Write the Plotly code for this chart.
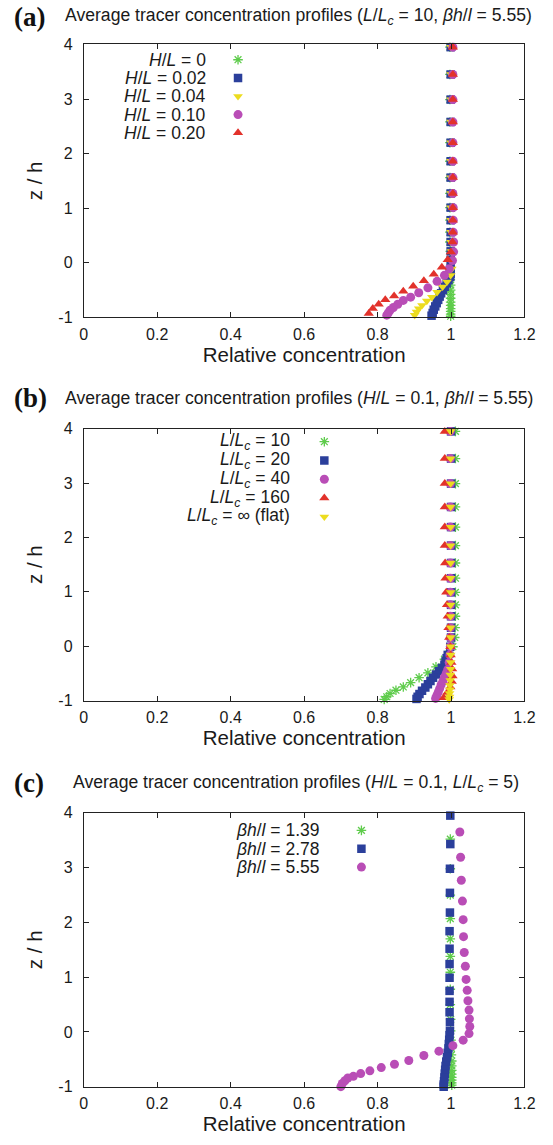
import plotly.graph_objects as go

# ---------------- data ----------------
# Panel (a): H/L series (L/Lc = 10, beta h/l = 5.55)
a_labels = ["H/L = 0", "H/L = 0.02", "H/L = 0.04", "H/L = 0.10", "H/L = 0.20"]
a0_z = [3.95, 3.45, 2.99, 2.58, 2.20, 1.86, 1.56, 1.27, 1.01, 0.78, 0.56, 0.38, 0.21, 0.05, -0.08, -0.20,
        -0.31, -0.41, -0.50, -0.58, -0.65, -0.72, -0.78, -0.84, -0.89, -0.94, -0.98]
a0_c = [0.997, 0.997, 0.997, 0.997, 0.997, 0.997, 0.997, 0.997, 0.997, 0.997, 0.997, 0.997, 0.998, 0.998, 0.998,
        0.998, 0.998, 0.999, 0.999, 0.999, 0.999, 0.999, 0.999, 0.999, 0.999, 0.999, 0.999]
a1_z = [3.95, 3.45, 2.99, 2.58, 2.20, 1.86, 1.56, 1.27, 1.01, 0.78, 0.56, 0.38, 0.21, 0.05, -0.10, -0.20,
        -0.26, -0.32, -0.38, -0.44, -0.50, -0.56, -0.62, -0.68, -0.74, -0.80, -0.86, -0.92, -0.97]
a1_c = [0.999, 0.999, 0.999, 0.999, 0.999, 0.999, 0.999, 0.999, 0.999, 0.999, 0.999, 0.999, 0.999, 0.999, 0.999,
        0.999, 0.998, 0.993, 0.988, 0.983, 0.978, 0.973, 0.969, 0.965, 0.961, 0.957, 0.953, 0.950, 0.947]
a2_z = [3.95, 3.45, 2.99, 2.58, 2.20, 1.86, 1.56, 1.27, 1.01, 0.78, 0.56, 0.38, 0.21, 0.05, -0.11, -0.23,
        -0.35, -0.44, -0.54, -0.63, -0.70, -0.78, -0.84, -0.90, -0.96]
a2_c = [1.000, 1.000, 1.000, 1.000, 1.000, 1.000, 1.000, 1.000, 1.000, 1.000, 1.000, 1.000, 1.001, 1.002, 1.002,
        0.999, 0.989, 0.977, 0.962, 0.948, 0.934, 0.921, 0.912, 0.906, 0.901]
a3_z = [3.95, 3.45, 2.99, 2.58, 2.20, 1.86, 1.56, 1.27, 1.01, 0.78, 0.56, 0.38, 0.20, 0.04, -0.11, -0.23,
        -0.34, -0.46, -0.55, -0.63, -0.69, -0.76, -0.82, -0.87, -0.92, -0.96]
a3_c = [1.005, 1.005, 1.005, 1.005, 1.005, 1.005, 1.005, 1.005, 1.006, 1.006, 1.006, 1.007, 1.007, 1.004, 0.995,
        0.982, 0.962, 0.937, 0.912, 0.890, 0.870, 0.855, 0.843, 0.834, 0.829, 0.825]
a4_z = [3.95, 3.45, 2.99, 2.58, 2.20, 1.86, 1.56, 1.27, 1.01, 0.78, 0.56, 0.38, 0.195, 0.055, -0.08, -0.21,
        -0.33, -0.43, -0.52, -0.61, -0.68, -0.76, -0.84, -0.93]
a4_c = [1.005, 1.005, 1.005, 1.005, 1.005, 1.005, 1.005, 1.005, 1.005, 1.005, 1.005, 1.004, 0.9995, 0.991, 0.975,
        0.953, 0.926, 0.897, 0.870, 0.845, 0.821, 0.803, 0.787, 0.776]

# Panel (b): L/Lc series (H/L = 0.1, beta h/l = 5.55)
b_labels = ["L/Lc = 10", "L/Lc = 20", "L/Lc = 40", "L/Lc = 160", "L/Lc = inf (flat)"]
b0_z = [3.95, 3.45, 2.99, 2.56, 2.19, 1.85, 1.53, 1.25, 0.99, 0.76, 0.55, 0.34, 0.16, -0.01, -0.13, -0.24,
        -0.38, -0.49, -0.58, -0.67, -0.75, -0.81, -0.87, -0.93, -0.98]
b0_c = [1.012, 1.012, 1.012, 1.012, 1.012, 1.012, 1.012, 1.012, 1.012, 1.012, 1.012, 1.011, 1.010, 1.005, 0.995,
        0.982, 0.959, 0.937, 0.913, 0.890, 0.870, 0.850, 0.834, 0.825, 0.818]
b1_z = [3.95, 3.45, 2.99, 2.56, 2.19, 1.85, 1.53, 1.25, 0.99, 0.76, 0.55, 0.34, 0.16, -0.01, -0.16, -0.22,
        -0.28, -0.34, -0.40, -0.46, -0.52, -0.58, -0.64, -0.70, -0.76, -0.82, -0.88, -0.93, -0.97]
b1_c = [1.000, 1.000, 1.000, 1.000, 1.000, 1.000, 1.000, 1.000, 1.000, 1.000, 1.000, 1.000, 1.000, 0.998, 0.991,
        0.988, 0.985, 0.982, 0.975, 0.967, 0.959, 0.951, 0.944, 0.937, 0.930, 0.921, 0.914, 0.909, 0.906]
b2_z = [3.95, 3.45, 2.99, 2.56, 2.19, 1.85, 1.53, 1.25, 0.99, 0.76, 0.55, 0.34, 0.16, -0.01, -0.16, -0.30,
        -0.43, -0.50, -0.57, -0.64, -0.71, -0.78, -0.85, -0.91, -0.96]
b2_c = [0.998, 0.998, 0.998, 0.998, 0.998, 0.998, 0.998, 0.998, 0.998, 0.998, 0.998, 0.998, 0.998, 0.998, 0.997,
        0.995, 0.991, 0.987, 0.982, 0.978, 0.973, 0.969, 0.965, 0.961, 0.958]
b3_z = [3.95, 3.45, 2.99, 2.56, 2.19, 1.85, 1.53, 1.25, 0.99, 0.76, 0.55, 0.34, 0.16, -0.01, -0.16, -0.30,
        -0.42, -0.55, -0.65, -0.75, -0.85, -0.95]
b3_c = [0.983, 0.983, 0.983, 0.983, 0.983, 0.983, 0.984, 0.985, 0.987, 0.989, 0.991, 0.993, 0.995, 0.998, 0.999,
        1.001, 1.003, 1.004, 1.002, 0.998, 0.990, 0.980]
b4_z = [3.95, 3.45, 2.99, 2.56, 2.19, 1.85, 1.53, 1.25, 0.99, 0.76, 0.55, 0.34, 0.16, -0.01, -0.16, -0.30,
        -0.42, -0.53, -0.63, -0.72, -0.80, -0.87, -0.93, -0.98]
b4_c = [0.999, 0.999, 0.999, 0.999, 0.999, 0.999, 0.999, 0.999, 0.999, 0.999, 0.999, 0.999, 0.999, 0.999, 0.999,
        0.999, 0.999, 0.998, 0.998, 0.997, 0.997, 0.996, 0.996, 0.995]

# Panel (c): beta h/l series (H/L = 0.1, L/Lc = 5)
c_labels = ["βh/l = 1.39", "βh/l = 2.78", "βh/l = 5.55"]
c0_z = [3.52, 2.98, 2.50, 2.07, 1.70, 1.38, 1.09, 0.78, 0.50, 0.23, 0.02, -0.15, -0.30, -0.42, -0.53, -0.62,
        -0.70, -0.77, -0.83, -0.88, -0.93, -0.97]
c0_c = [0.998, 0.998, 0.998, 0.998, 0.998, 0.998, 0.998, 0.998, 0.998, 0.999, 0.999, 1.000, 1.001, 1.001, 1.002,
        1.002, 1.002, 1.002, 1.002, 1.002, 1.002, 1.002]
c1_z = [3.95, 3.43, 2.98, 2.54, 2.18, 1.84, 1.52, 1.24, 0.99, 0.75, 0.55, 0.36, 0.18, 0.02, -0.06, -0.14,
        -0.22, -0.30, -0.38, -0.46, -0.54, -0.62, -0.69, -0.76, -0.83, -0.90, -0.96, -1.00]
c1_c = [0.998, 0.998, 0.997, 0.997, 0.997, 0.996, 0.996, 0.996, 0.996, 0.996, 0.996, 0.996, 0.997, 0.997, 0.996,
        0.995, 0.994, 0.993, 0.991, 0.989, 0.987, 0.985, 0.984, 0.983, 0.982, 0.981, 0.980, 0.980]
c2_z = [3.65, 3.19, 2.77, 2.39, 2.05, 1.74, 1.45, 1.20, 0.96, 0.76, 0.57, 0.40, 0.24, 0.10, -0.03, -0.15,
        -0.25, -0.35, -0.43, -0.52, -0.59, -0.65, -0.71, -0.76, -0.81, -0.84, -0.89, -0.94, -0.998]
c2_c = [1.024, 1.026, 1.028, 1.031, 1.033, 1.034, 1.036, 1.039, 1.041, 1.044, 1.046, 1.049, 1.050, 1.051, 1.049,
        1.033, 1.005, 0.967, 0.926, 0.885, 0.846, 0.810, 0.779, 0.754, 0.734, 0.719, 0.711, 0.704, 0.700]

x_tickvals = [0, 0.2, 0.4, 0.6, 0.8, 1.0, 1.2]
x_ticktext = ["0", "0.2", "0.4", "0.6", "0.8", "1", "1.2"]
y_tickvals = [-1, 0, 1, 2, 3, 4]
y_ticktext = ["-1", "0", "1", "2", "3", "4"]

# ---------------- styles / layout constants ----------------
W, H = 553, 1145
GREEN, BLUE, YELLOW, MAGENTA, RED = "#5fcc4c", "#2b3f9b", "#ecdc1e", "#b94db6", "#e2322b"
STY = {
    "star": dict(symbol="asterisk-open", size=8, color=GREEN, line=dict(color=GREEN, width=1.3)),
    "square": dict(symbol="square", size=8.5, color=BLUE),
    "down": dict(symbol="triangle-down", size=8.5, color=YELLOW),
    "circle": dict(symbol="circle", size=9, color=MAGENTA),
    "up": dict(symbol="triangle-up", size=9, color=RED),
}

FONT = "Liberation Sans, Arial, Helvetica, sans-serif"
TXT = "#1a1a1a"

# pixel geometry of the three plot areas (top, bottom) and x extent
X0, X1 = 82, 535
PANELS = [(37, 314), (427, 703), (817, 1095)]


def ydom(top, bot):
    return [1 - bot / H, 1 - top / H]


fig = go.Figure()

series = [
    (1, [(a0_z, a0_c, "star"), (a1_z, a1_c, "square"), (a2_z, a2_c, "down"), (a3_z, a3_c, "circle"),
         (a4_z, a4_c, "up")]),
    (2, [(b0_z, b0_c, "star"), (b1_z, b1_c, "square"), (b2_z, b2_c, "circle"), (b3_z, b3_c, "up"),
         (b4_z, b4_c, "down")]),
    (3, [(c0_z, c0_c, "star"), (c1_z, c1_c, "square"), (c2_z, c2_c, "circle")]),
]

for k, lst in series:
    xa = "x" if k == 1 else f"x{k}"
    ya = "y" if k == 1 else f"y{k}"
    for z, c, st in lst:
        fig.add_trace(go.Scatter(x=c, y=z, mode="markers", marker=STY[st], xaxis=xa, yaxis=ya,
                                 showlegend=False, cliponaxis=False, hoverinfo="x+y"))

legend_text = {
    1: ["<i>H</i>/<i>L</i> = 0", "<i>H</i>/<i>L</i> = 0.02", "<i>H</i>/<i>L</i> = 0.04",
        "<i>H</i>/<i>L</i> = 0.10", "<i>H</i>/<i>L</i> = 0.20"],
    2: ["<i>L</i>/<i>L<sub>c</sub></i> = 10", "<i>L</i>/<i>L<sub>c</sub></i> = 20",
        "<i>L</i>/<i>L<sub>c</sub></i> = 40", "<i>L</i>/<i>L<sub>c</sub></i> = 160",
        "<i>L</i>/<i>L<sub>c</sub></i> = ∞ (flat)"],
    3: ["<i>βh</i>/<i>l</i> = 1.39", "<i>βh</i>/<i>l</i> = 2.78", "<i>βh</i>/<i>l</i> = 5.55"],
}
legend_style = {1: ["star", "square", "down", "circle", "up"],
                 2: ["star", "square", "circle", "up", "down"],
                 3: ["star", "square", "circle"]}
# (text right x, key x, first row z, row step) in data units
legend_geom = {1: (0.338, 0.42, 3.72, 0.335), 2: (0.568, 0.655, 3.76, 0.345), 3: (0.65, 0.756, 3.68, 0.335)}

annotations = []
for k in (1, 2, 3):
    tx, kx, z0, dz = legend_geom[k]
    xa = "x" if k == 1 else f"x{k}"
    ya = "y" if k == 1 else f"y{k}"
    for i, (t, st) in enumerate(zip(legend_text[k], legend_style[k])):
        zz = z0 - i * dz
        fig.add_trace(go.Scatter(x=[kx], y=[zz], mode="markers", marker=STY[st], xaxis=xa, yaxis=ya,
                                 showlegend=False, hoverinfo="skip"))
        annotations.append(dict(x=tx, y=zz, xref=xa, yref=ya, text=t, showarrow=False, xanchor="right",
                                yanchor="middle", font=dict(family=FONT, size=17.5, color=TXT)))

titles = [
    ("(a)", "Average tracer concentration profiles (<i>L</i>/<i>L<sub>c</sub></i> = 10, <i>βh</i>/<i>l</i> = 5.55)", 9, 61),
    ("(b)", "Average tracer concentration profiles (<i>H</i>/<i>L</i> = 0.1, <i>βh</i>/<i>l</i> = 5.55)", 396, 61),
    ("(c)", "Average tracer concentration profiles (<i>H</i>/<i>L</i> = 0.1, <i>L</i>/<i>L<sub>c</sub></i> = 5)", 787, 69),
]
for lab, t, ypx, xpx in titles:
    annotations.append(dict(x=8 / W, y=1 - ypx / H, xref="paper", yref="paper", text=f"<b>{lab}</b>",
                            showarrow=False, xanchor="left", yanchor="middle",
                            font=dict(family="Liberation Serif, Times New Roman, serif", size=27, color="#111")))
    annotations.append(dict(x=xpx / W, y=1 - ypx / H, xref="paper", yref="paper", text=t,
                            showarrow=False, xanchor="left", yanchor="middle",
                            font=dict(family=FONT, size=17.6, color=TXT)))

axcommon = dict(showline=True, linecolor="#222", linewidth=1, mirror="ticks", ticks="inside", ticklen=5,
                tickcolor="#222", tickwidth=1, showgrid=False, zeroline=False,
                tickfont=dict(family=FONT, size=16, color=TXT))

layout = dict(width=W, height=H, margin=dict(l=0, r=0, t=0, b=0), plot_bgcolor="white",
              paper_bgcolor="white", annotations=annotations, showlegend=False)
for k, (top, bot) in zip((1, 2, 3), PANELS):
    xn = "xaxis" if k == 1 else f"xaxis{k}"
    yn = "yaxis" if k == 1 else f"yaxis{k}"
    layout[xn] = dict(axcommon, domain=[X0 / W, X1 / W], range=[0, 1.2], tickvals=x_tickvals,
                      ticktext=x_ticktext, anchor="y" if k == 1 else f"y{k}", ticklabelstandoff=2,
                      title=dict(text="Relative concentration", font=dict(family=FONT, size=20.5, color=TXT),
                                 standoff=0))
    layout[yn] = dict(axcommon, domain=ydom(top, bot), range=[-1, 4], tickvals=y_tickvals,
                      ticktext=y_ticktext, anchor="x" if k == 1 else f"x{k}", ticklabelstandoff=7,
                      title=dict(text="z / h", font=dict(family=FONT, size=20.5, color=TXT), standoff=10))

fig.update_layout(**layout)
fig.write_html("out.html")
